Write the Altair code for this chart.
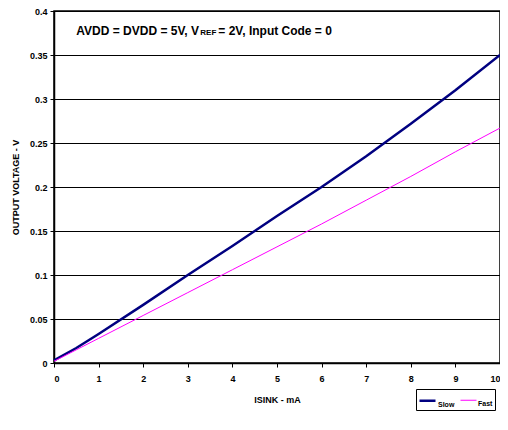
import altair as alt
import pandas as pd

isink = [0, 0.5, 1, 2, 3, 4, 5, 6, 7, 8, 9, 10]
slow = [0.003, 0.017, 0.033, 0.066, 0.1, 0.133, 0.167, 0.2, 0.235, 0.272, 0.31, 0.35]
fast = [0.002, 0.015, 0.028, 0.054, 0.08, 0.106, 0.132, 0.158, 0.185, 0.212, 0.24, 0.267]
series = ["Slow", "Fast"]
colors = ["#000080", "#FF00FF"]
widths = [2.5, 1.0]

rows = []
for s, vals in zip(series, [slow, fast]):
    for x, y in zip(isink, vals):
        rows.append({"ISINK": x, "V": y, "Series": s})
df = pd.DataFrame(rows)

FONT = "Liberation Sans"

xscale = alt.Scale(domain=[0, 10], nice=False, zero=True)
yscale = alt.Scale(domain=[0, 0.4], nice=False)

legend = alt.Legend(title=None, orient="none", legendX=362, legendY=378,
                    direction="horizontal", symbolType="stroke", symbolSize=256,
                    labelFont=FONT, labelFontSize=7, labelFontWeight="bold",
                    labelColor="black", strokeColor="black", padding=2,
                    columnPadding=3, labelOffset=1, labelBaseline="top")

lines = alt.Chart(df).mark_line().encode(
    x=alt.X("ISINK:Q", scale=xscale,
            axis=alt.Axis(title="ISINK - mA", values=list(range(11)), format="d",
                          grid=False, domainColor="black", domainWidth=1.5,
                          tickColor="black", tickSize=4, labelPadding=7,
                          labelFont=FONT, labelFontSize=9, labelFontWeight="bold",
                          labelColor="black", titleFont=FONT, titleFontSize=9,
                          titleFontWeight="bold", titleColor="black", titlePadding=12)),
    y=alt.Y("V:Q", scale=yscale,
            axis=alt.Axis(title="OUTPUT VOLTAGE - V", values=[0, 0.05, 0.1, 0.15, 0.2, 0.25, 0.3, 0.35, 0.4],
                          format="~g", grid=True, gridColor="black", gridWidth=1, gridOpacity=1,
                          domainColor="black", domainWidth=1.5, tickColor="black", tickSize=4,
                          labelPadding=3, labelFont=FONT, labelFontSize=9, labelFontWeight="bold",
                          labelColor="black", titleFont=FONT, titleFontSize=9,
                          titleFontWeight="bold", titleColor="black", titlePadding=9)),
    color=alt.Color("Series:N", scale=alt.Scale(domain=series, range=colors), legend=legend),
    strokeWidth=alt.StrokeWidth("Series:N", scale=alt.Scale(domain=series, range=widths), legend=legend),
)

ann = pd.DataFrame({"x": [0.5], "y": [0.377]})
t1 = alt.Chart(ann).mark_text(align="left", baseline="middle", font=FONT, fontSize=12,
                              fontWeight="bold", color="black",
                              text="AVDD = DVDD = 5V, V").encode(x="x:Q", y="y:Q")
t2 = alt.Chart(ann).mark_text(align="left", baseline="middle", font=FONT, fontSize=8,
                              fontWeight="bold", color="black", dx=124, dy=2,
                              text="REF").encode(x="x:Q", y="y:Q")
t3 = alt.Chart(ann).mark_text(align="left", baseline="middle", font=FONT, fontSize=12,
                              fontWeight="bold", color="black", dx=142,
                              text="= 2V, Input Code = 0").encode(x="x:Q", y="y:Q")

chart = alt.layer(lines, t1, t2, t3).properties(
    width=446, height=352,
    autosize=alt.AutoSizeParams(type="none"),
    padding={"left": 46, "top": 3, "right": 0, "bottom": 55},
).configure_view(stroke="black", strokeWidth=1.5)

chart.save("out.html", embed_options={"renderer": "svg", "actions": False})
